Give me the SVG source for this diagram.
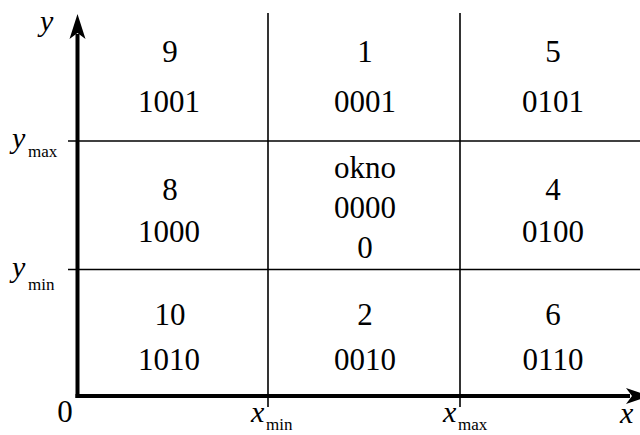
<svg xmlns="http://www.w3.org/2000/svg" width="640" height="435" viewBox="0 0 640 435">
<style>
.t{font-family:"Liberation Serif","Times New Roman",serif;font-size:31px;fill:#000;text-anchor:middle}
.v{font-family:"Liberation Serif","Times New Roman",serif;font-size:30px;font-style:italic;fill:#000}
.s{font-family:"Liberation Serif","Times New Roman",serif;font-size:17px;fill:#000}
.g{stroke:#000;stroke-width:1.6;fill:none}
.ax{stroke:#000;stroke-width:4;fill:none}
</style>
<rect width="640" height="435" fill="#fff"/>
<g id="connectors">
<line class="g" x1="268" y1="13" x2="268" y2="407"/>
<line class="g" x1="460" y1="13" x2="460" y2="407"/>
<line class="g" x1="68" y1="141" x2="640" y2="141"/>
<line class="g" x1="68" y1="269.5" x2="640" y2="269.5"/>
<line class="ax" x1="77.5" y1="398" x2="77.5" y2="34"/>
<line class="ax" x1="75.5" y1="396" x2="630" y2="396"/>
<path d="M77.5 14 L85.5 39 L77.5 33 L69.5 39 Z" fill="#000"/>
<path d="M650 396 L626 388 L632 396 L626 404 Z" fill="#000"/>
</g>
<g id="axis-labels">
<text class="v" x="40" y="31">y</text>
<text class="v" x="620" y="423">x</text>
<text class="t" x="65" y="422">0</text>
<text class="v" x="12" y="148">y</text><text class="s" x="28" y="157">max</text>
<text class="v" x="12" y="277">y</text><text class="s" x="28" y="290">min</text>
<text class="v" x="251" y="422">x</text><text class="s" x="266" y="430">min</text>
<text class="v" x="443" y="422">x</text><text class="s" x="458" y="430">max</text>
</g>
<g id="r9"><text class="t" x="170" y="62">9</text><text class="t" x="169" y="112">1001</text></g>
<g id="r1"><text class="t" x="365" y="62">1</text><text class="t" x="365" y="112">0001</text></g>
<g id="r5"><text class="t" x="553" y="62">5</text><text class="t" x="553" y="112">0101</text></g>
<g id="r8"><text class="t" x="170" y="200">8</text><text class="t" x="169" y="242">1000</text></g>
<g id="r0"><text class="t" x="365" y="178">okno</text><text class="t" x="365" y="218">0000</text><text class="t" x="365" y="258">0</text></g>
<g id="r4"><text class="t" x="553" y="200">4</text><text class="t" x="553" y="242">0100</text></g>
<g id="r10"><text class="t" x="170" y="325">10</text><text class="t" x="169" y="370">1010</text></g>
<g id="r2"><text class="t" x="365" y="325">2</text><text class="t" x="365" y="370">0010</text></g>
<g id="r6"><text class="t" x="553" y="325">6</text><text class="t" x="553" y="370">0110</text></g>
</svg>
